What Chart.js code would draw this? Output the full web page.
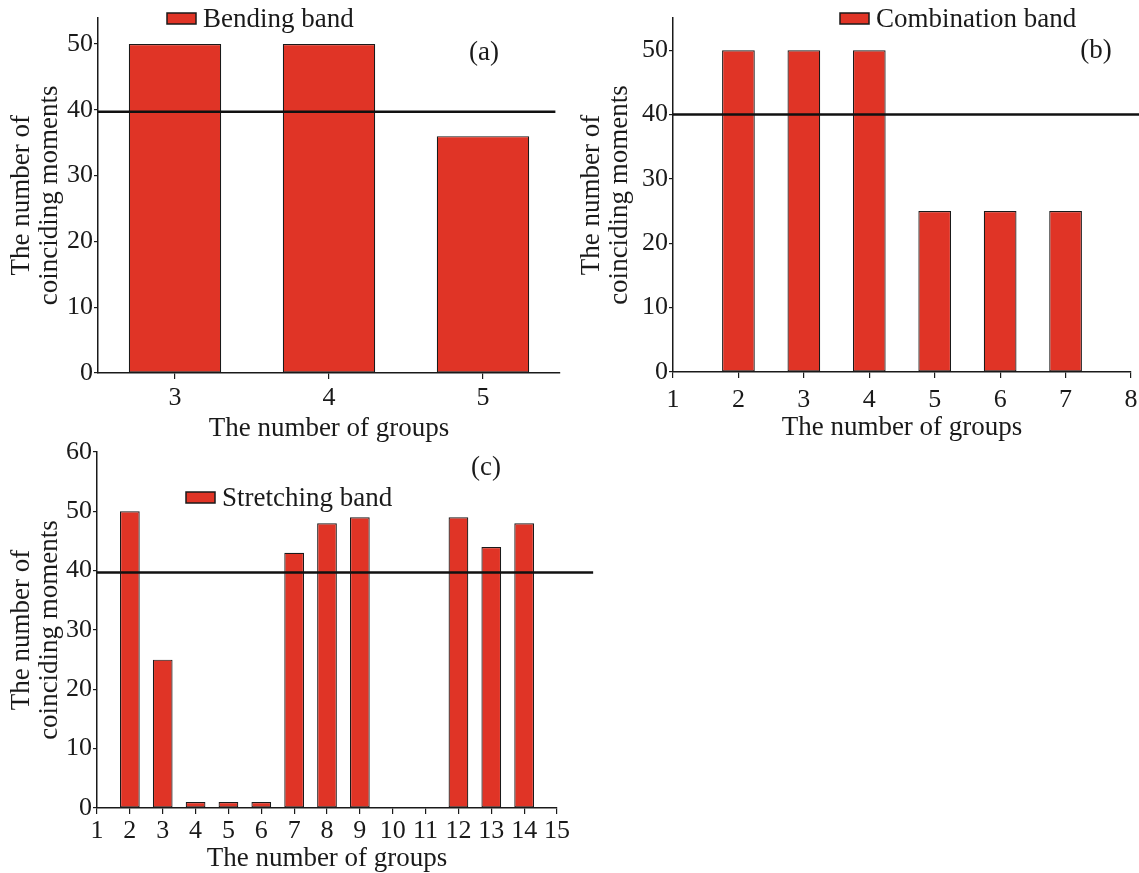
<!DOCTYPE html>
<html>
<head>
<meta charset="utf-8">
<script src="https://cdn.jsdelivr.net/npm/chart.js@4.4.0/dist/chart.umd.min.js"></script>
<style>
  html, body { margin: 0; padding: 0; background: #fff; overflow: hidden; }
  body { width: 1139px; height: 873px; position: relative; }
  canvas { position: absolute; }
</style>
</head>
<body>
<canvas id="chartA" width="570" height="443" style="left:0;top:0"></canvas>
<canvas id="chartB" width="580" height="442" style="left:570px;top:0"></canvas>
<canvas id="chartC" width="600" height="443" style="left:0;top:430px"></canvas>
<script>
// (a) bending band
const groupsA = [3, 4, 5];
const bendingValues = [50, 50, 36];
const xTicksA = [3, 4, 5];
const thresholdA = 39.7;

// (b) combination band
const groupsB = [2, 3, 4, 5, 6, 7];
const combinationValues = [50, 50, 50, 25, 25, 25];
const xTicksB = [1, 2, 3, 4, 5, 6, 7, 8];
const thresholdB = 40;

// (c) stretching band
const groupsC = [2, 3, 4, 5, 6, 7, 8, 9, 12, 13, 14];
const stretchingValues = [50, 25, 1, 1, 1, 43, 48, 49, 49, 44, 48];
const xTicksC = [1, 2, 3, 4, 5, 6, 7, 8, 9, 10, 11, 12, 13, 14, 15];
const thresholdC = 39.7;

const yTicksAB = [0, 10, 20, 30, 40, 50];
const yTicksC = [0, 10, 20, 30, 40, 50, 60];

const SERIF = "'Liberation Serif', 'DejaVu Serif', serif";
const RED = '#e03426';
const INK = '#1a1a1a';

// legend swatch + panel letter drawn inside the plot
const panelLabels = {
  id: 'panelLabels',
  afterDraw(chart, args, opts) {
    const ctx = chart.ctx;
    const ds = chart.data.datasets[0];
    ctx.save();
    ctx.fillStyle = ds.backgroundColor;
    ctx.strokeStyle = INK;
    ctx.lineWidth = 1.5;
    ctx.fillRect(opts.legendX, opts.legendY, 29, 11);
    ctx.strokeRect(opts.legendX, opts.legendY, 29, 11);
    ctx.font = '27px ' + SERIF;
    ctx.fillStyle = INK;
    ctx.textBaseline = 'alphabetic';
    ctx.textAlign = 'left';
    ctx.fillText(ds.label, opts.legendX + 36, opts.legendY + 14);
    ctx.textAlign = 'center';
    ctx.fillText(opts.letter, opts.letterX, opts.letterY);
    ctx.restore();
  }
};

function makeChart(id, cfg) {
  const tickFont = { family: SERIF, size: 26 };
  const titleFont = { family: SERIF, size: 27, lineHeight: 1.07 };
  return new Chart(document.getElementById(id), {
    type: 'bar',
    data: {
      datasets: [
        {
          type: 'bar',
          label: cfg.label,
          data: cfg.groups.map((g, i) => ({ x: g, y: cfg.values[i] })),
          backgroundColor: RED,
          borderColor: INK,
          borderWidth: 1.2,
          borderSkipped: false,
          barPercentage: cfg.barPct,
          categoryPercentage: 1,
          order: 1
        },
        {
          type: 'line',
          label: 'threshold',
          data: cfg.lineSpan.map(x => ({ x: x, y: cfg.threshold })),
          borderColor: '#111',
          borderWidth: 2.6,
          pointRadius: 0,
          clip: false,
          order: 0
        }
      ]
    },
    options: {
      responsive: false,
      animation: false,
      layout: { padding: { left: 0, top: cfg.padTop, right: cfg.padRight, bottom: 0 } },
      plugins: {
        legend: { display: false },
        tooltip: { enabled: false },
        panelLabels: cfg.labels
      },
      scales: {
        x: {
          type: 'linear',
          min: cfg.xMin,
          max: cfg.xMax,
          offset: false,
          grid: { offset: false, drawOnChartArea: false, drawTicks: true, tickLength: 6, color: INK, lineWidth: 1.2 },
          border: { display: true, color: INK, width: 1.5 },
          ticks: { font: tickFont, color: INK, padding: cfg.xTickPad, autoSkip: false, maxRotation: 0 },
          afterBuildTicks: s => { s.ticks = cfg.xTicks.map(v => ({ value: v })); },
          afterFit: s => { s.height = cfg.xHeight; },
          title: { display: true, text: 'The number of groups', font: titleFont, color: INK, padding: 0 }
        },
        y: {
          min: 0,
          max: cfg.yMax,
          grid: { drawOnChartArea: false, drawTicks: true, tickLength: 4, color: INK, lineWidth: 1.2 },
          border: { display: true, color: INK, width: 1.5 },
          ticks: { font: tickFont, color: INK, padding: 1 },
          afterBuildTicks: s => { s.ticks = cfg.yTicks.map(v => ({ value: v })); },
          afterFit: s => { s.width = cfg.yWidth; },
          title: {
            display: true,
            text: ['The number of', 'coinciding moments'],
            font: titleFont,
            color: INK,
            padding: { top: 7, bottom: 0 }
          }
        }
      }
    },
    plugins: [panelLabels]
  });
}

makeChart('chartA', {
  label: 'Bending band', groups: groupsA, values: bendingValues, barPct: 0.6,
  threshold: thresholdA, lineSpan: [2.5, 5.47],
  xMin: 2.5, xMax: 5.5, xTicks: xTicksA, yMax: 54, yTicks: yTicksAB,
  padTop: 17.7, padRight: 10, xHeight: 70, xTickPad: 4, yWidth: 98,
  labels: { legendX: 167, legendY: 13, letter: '(a)', letterX: 484, letterY: 60 }
});

makeChart('chartB', {
  label: 'Combination band', groups: groupsB, values: combinationValues, barPct: 0.5,
  threshold: thresholdB, lineSpan: [1, 8.15],
  xMin: 1, xMax: 8, xTicks: xTicksB, yMax: 55, yTicks: yTicksAB,
  padTop: 18, padRight: 19, xHeight: 70, xTickPad: 7, yWidth: 103,
  labels: { legendX: 270, legendY: 13, letter: '(b)', letterX: 526, letterY: 58 }
});

makeChart('chartC', {
  label: 'Stretching band', groups: groupsC, values: stretchingValues, barPct: 0.6,
  threshold: thresholdC, lineSpan: [1, 16.1],
  xMin: 1, xMax: 15, xTicks: xTicksC, yMax: 60, yTicks: yTicksC,
  padTop: 22, padRight: 43, xHeight: 65, xTickPad: 2, yWidth: 97,
  labels: { legendX: 186, legendY: 62, letter: '(c)', letterX: 486, letterY: 45 }
});
</script>
</body>
</html>
